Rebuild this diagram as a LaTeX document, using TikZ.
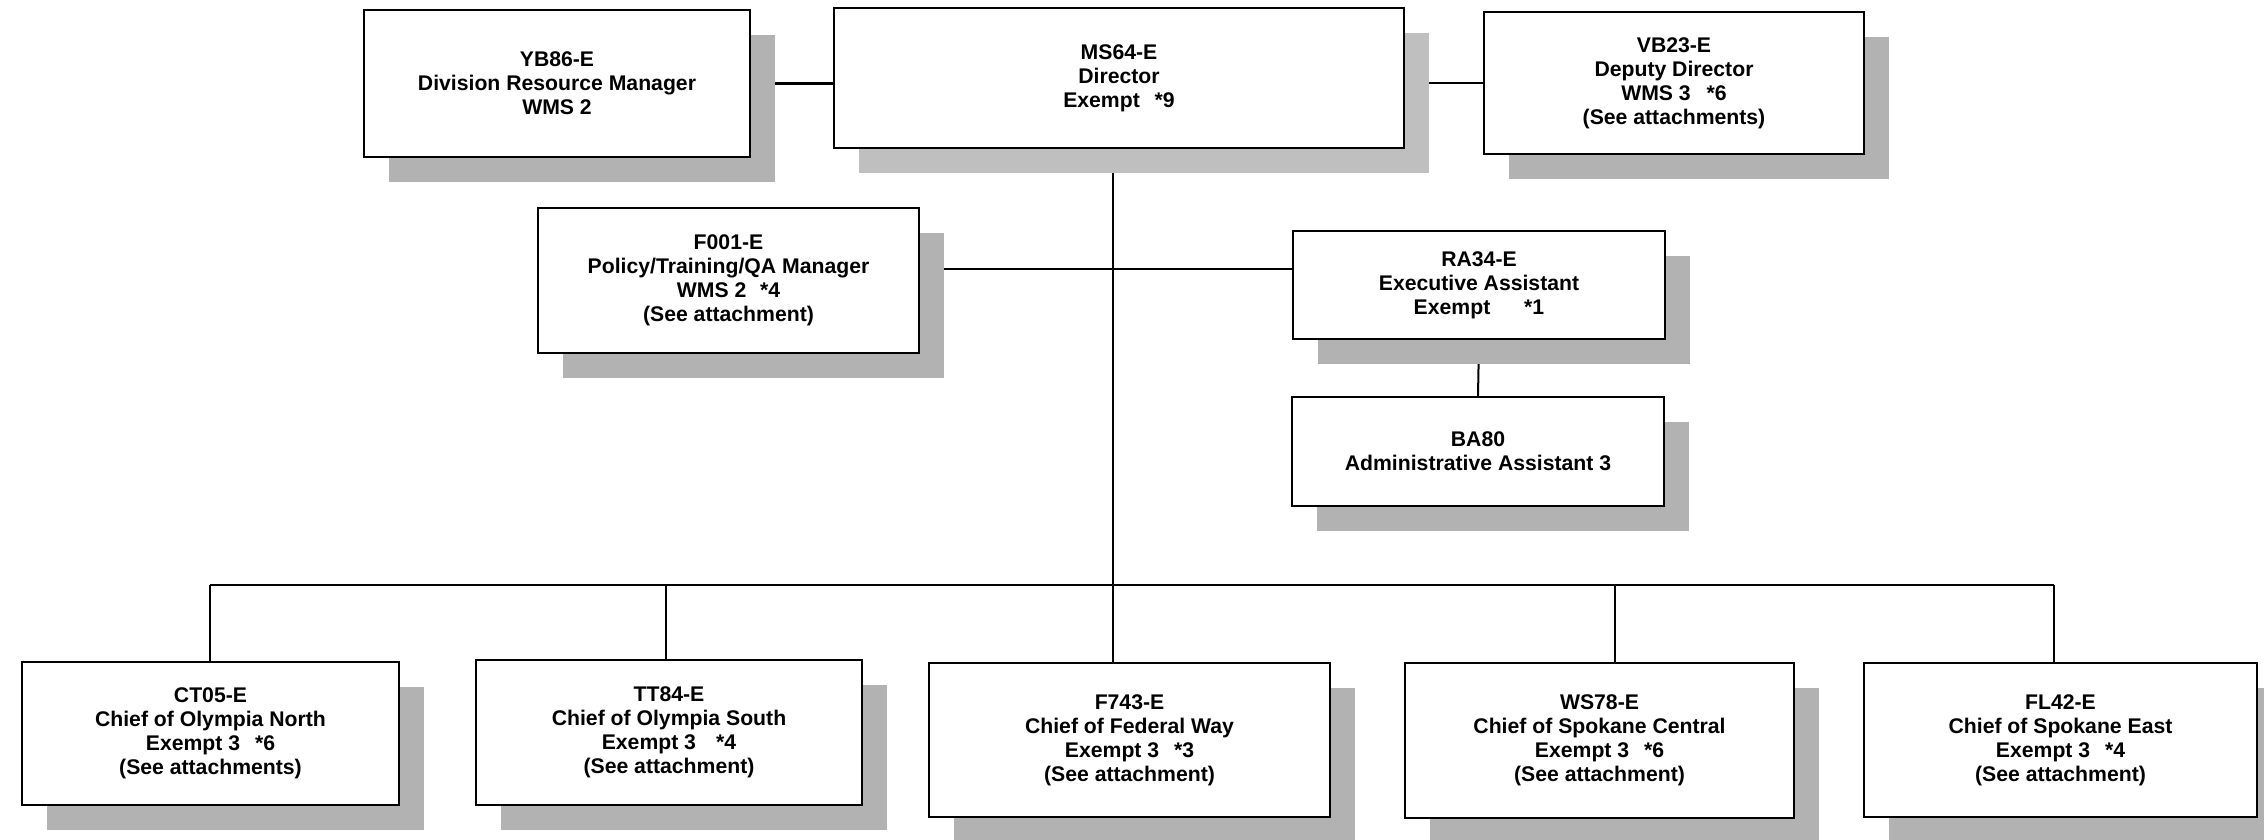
\documentclass[tikz,border=0pt]{standalone}
\usepackage{fontspec}
\setmainfont{Liberation Sans}
\usetikzlibrary{shadows}
\pgfdeclarelayer{paper}
\pgfdeclarelayer{wires}
\pgfsetlayers{paper,wires,main}
\tikzset{
  post/.style={draw=black, line width=1.2pt, fill=white, align=center,
    font=\fontsize{10.6pt}{12pt}\selectfont\bfseries, inner sep=0pt,
    drop shadow={shadow xshift=12.5pt, shadow yshift=-12.5pt, fill=black!30, opacity=1}},
  wire/.style={line width=1.4pt},
  drop/.style={line width=1pt},
}
\begin{document}
\begin{tikzpicture}[x=0.5pt, y=-0.5pt]
\begin{pgfonlayer}{paper}
  \fill[white] (0,0) rectangle (2264,840);
\end{pgfonlayer}
\useasboundingbox (0,0) rectangle (2264,840);
\clip (0,0) rectangle (2264,840);

% top row
\node[post, minimum width=193pt, minimum height=73.5pt] (yb) at (557,83.5)
  {YB86-E\\Division Resource Manager\\WMS 2};
\node[post, minimum width=285pt, minimum height=70pt,
  drop shadow={shadow xshift=12.5pt, shadow yshift=-12.5pt, fill=black!25, opacity=1}] (ms) at (1119,78)
  {MS64-E\\Director\\Exempt\hspace{0.7em}*9};
\node[post, minimum width=190pt, minimum height=71pt] (vb) at (1674,83)
  {VB23-E\\Deputy Director\\WMS 3\hspace{0.75em}*6\\(See attachments)};

% staff row
\node[post, minimum width=190.5pt, minimum height=72.5pt] (f001) at (728.5,280.5)
  {F001-E\\Policy/Training/QA Manager\\WMS 2\hspace{0.65em}*4\\(See attachment)};
\node[post, minimum width=186pt, minimum height=54pt] (ra) at (1479,285)
  {RA34-E\\Executive Assistant\\Exempt\hspace{1.6em}*1};
\node[post, minimum width=186pt, minimum height=54.5pt] (ba) at (1478,451.5)
  {BA80\\Administrative Assistant 3};

% field chiefs
\node[post, minimum width=188.5pt, minimum height=71.5pt] (ct) at (210.5,733.5)
  {CT05-E\\Chief of Olympia North\\Exempt 3\hspace{0.7em}*6\\(See attachments)};
\node[post, minimum width=193pt, minimum height=72.5pt] (tt) at (669,732.5)
  {TT84-E\\Chief of Olympia South\\Exempt 3\hspace{0.95em}*4\\(See attachment)};
\node[post, minimum width=200.5pt, minimum height=77pt] (f743) at (1129.5,740)
  {F743-E\\Chief of Federal Way\\Exempt 3\hspace{0.7em}*3\\(See attachment)};
\node[post, minimum width=194.5pt, minimum height=77.5pt] (ws) at (1599.5,740.5)
  {WS78-E\\Chief of Spokane Central\\Exempt 3\hspace{0.7em}*6\\(See attachment)};
\node[post, minimum width=196.5pt, minimum height=77pt] (fl) at (2060.5,740)
  {FL42-E\\Chief of Spokane East\\Exempt 3\hspace{0.7em}*4\\(See attachment)};

% reporting lines, kept underneath the boxes and their shadows
\coordinate (trunk) at (1113,585);
\coordinate (midrow) at (1113,269);
\coordinate (dct) at (210,585);
\coordinate (dtt) at (666,585);
\coordinate (dws) at (1615,585);
\coordinate (dfl) at (2054,585);
\begin{pgfonlayer}{wires}
  \draw[wire] (yb.east) -- (yb.east -| ms.west);
  \draw[wire] (ms.east |- vb.west) -- (vb.west);
  \draw[drop] (ms.south -| trunk) -- (f743.north -| trunk);
  \draw[wire] (f001.east |- midrow) -- (ra.west |- midrow);
  \draw[drop] (ra.south) -- (ba.north);
  \draw[wire] (dct) -- (dfl);
  \draw[drop] (dct) -- (dct |- ct.north);
  \draw[drop] (dtt) -- (dtt |- tt.north);
  \draw[drop] (dws) -- (dws |- ws.north);
  \draw[drop] (dfl) -- (dfl |- fl.north);
\end{pgfonlayer}
\end{tikzpicture}
\end{document}
